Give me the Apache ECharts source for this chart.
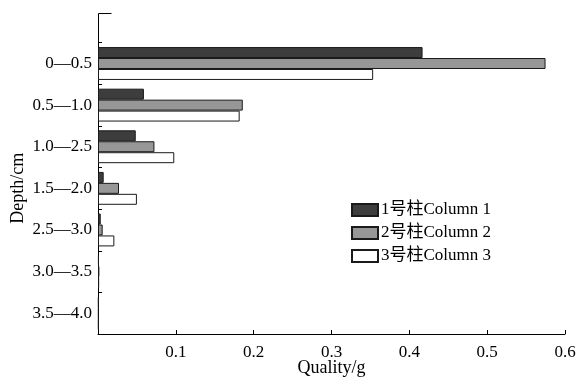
<!DOCTYPE html>
<html><head><meta charset="utf-8">
<script src="https://cdn.jsdelivr.net/npm/echarts@6/dist/echarts.min.js"></script>
<style>html,body{margin:0;padding:0;background:#fff}#c{width:578px;height:379px}</style>
</head><body><div id="c"></div>
<script>
const categories = ['0—0.5','0.5—1.0','1.0—2.5','1.5—2.0','2.5—3.0','3.0—3.5','3.5—4.0'];
const seriesNames = ['1号柱Column 1','2号柱Column 2','3号柱Column 3'];
const column1 = [0.417, 0.059, 0.0485, 0.0073, 0.0035, 0.0012, 0.001];
const column2 = [0.575, 0.186, 0.0725, 0.027, 0.006, 0.0018, 0.001];
const column3 = [0.3535, 0.182, 0.098, 0.050, 0.021, 0.0015, 0.001];
const xTicks = [0.1, 0.2, 0.3, 0.4, 0.5, 0.6];

const FONT = '"Liberation Serif", "Noto Sans CJK SC", serif';
const fills = ['#3d3d3d', '#979797', '#ffffff'];
const chart = echarts.init(document.getElementById('c'));
const mk = (name, data, i) => ({
  name, type: 'bar', data, barGap: '0%', barCategoryGap: '21%',
  itemStyle: { color: fills[i], borderColor: '#1a1a1a', borderWidth: 1 }
});
chart.setOption({
  animation: false,
  textStyle: { fontFamily: FONT, color: '#000' },
  grid: { left: 98, right: 13, top: 42.7, bottom: 45, containLabel: false, outerBoundsMode: 'none' },
  legend: {
    orient: 'vertical', left: 346, top: 196, itemWidth: 26, itemHeight: 12, itemGap: 5,
    icon: 'rect', textStyle: { fontFamily: FONT, fontSize: 17, lineHeight: 18, color: '#000', padding: [0,0,0,-2] },
    data: seriesNames
  },
  xAxis: {
    type: 'value', min: 0, max: 0.6, interval: 0.1,
    name: 'Quality/g', nameLocation: 'middle', nameGap: 25, nameMoveOverlap: false,
    nameTextStyle: { fontFamily: FONT, fontSize: 18, color: '#000' },
    axisLine: { show: true, lineStyle: { color: '#000', width: 1 } },
    axisTick: { show: true, inside: true, length: 4, lineStyle: { color: '#000' } },
    splitLine: { show: false },
    axisLabel: { fontFamily: FONT, fontSize: 17, color: '#000', margin: 10,
      formatter: v => xTicks.some(t => Math.abs(t - v) < 1e-9) ? String(+v.toFixed(1)) : '' }
  },
  yAxis: {
    type: 'category', data: categories, inverse: true,
    name: 'Depth/cm', nameLocation: 'middle', nameGap: 71, nameMoveOverlap: false,
    nameTextStyle: { fontFamily: FONT, fontSize: 18, color: '#000' },
    axisLine: { show: true, lineStyle: { color: '#000', width: 1 } },
    axisTick: { show: true, inside: true, length: 4, lineStyle: { color: '#000' } },
    axisLabel: { fontFamily: FONT, fontSize: 17, color: '#000', margin: 6 }
  },
  graphic: [
    { type: 'polyline', shape: { points: [[111.5, 13.5], [98.5, 13.5], [98.5, 43]] },
      style: { stroke: '#000', lineWidth: 1, fill: null }, silent: true }
  ],
  series: [mk(seriesNames[0], column1, 0), mk(seriesNames[1], column2, 1), mk(seriesNames[2], column3, 2)]
});
</script></body></html>
